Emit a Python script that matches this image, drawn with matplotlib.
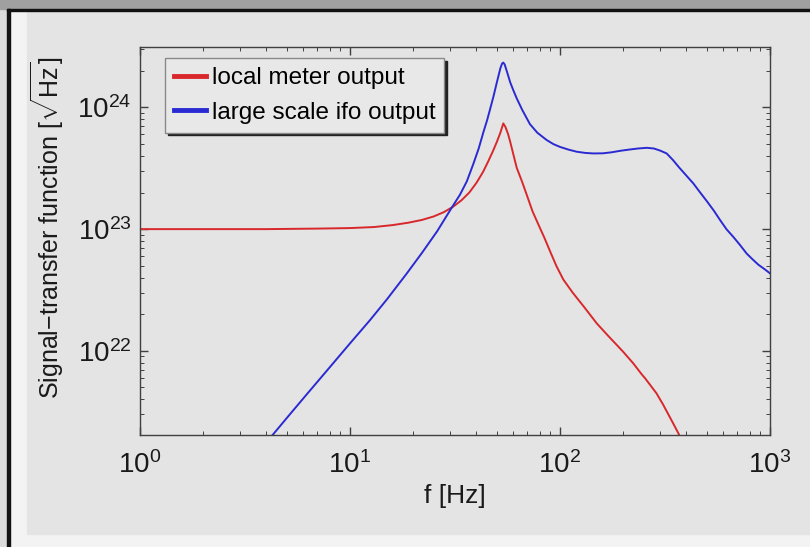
import matplotlib
matplotlib.use("Agg")
from matplotlib import pyplot as plt
from matplotlib.patches import Rectangle
from matplotlib.ticker import LogLocator

# values (f in Hz, transfer function in sqrt(Hz))
f_local = [1, 2, 4, 7, 10, 13, 16, 19, 22, 25, 28, 31, 34, 37, 40, 43, 45.5, 48, 50,
           52, 53.7, 55, 56.5, 57.8, 60, 62.2, 66, 69.4, 74, 80.3, 84, 89.6, 96, 103.7,
           115, 130, 149.6, 170, 200, 223, 245, 255, 288, 310, 345, 366, 400]
h_local = [1.0e23, 1.0e23, 1.0e23, 1.01e23, 1.02e23, 1.04e23, 1.08e23, 1.13e23, 1.19e23,
           1.27e23, 1.38e23, 1.53e23, 1.73e23, 2.0e23, 2.4e23, 2.95e23, 3.6e23, 4.4e23,
           5.2e23, 6.2e23, 7.4e23, 6.9e23, 6.1e23, 5.3e23, 4.1e23, 3.2e23, 2.45e23,
           1.92e23, 1.4e23, 1.02e23, 8.6e22, 6.6e22, 5.0e22, 3.85e22, 3.0e22, 2.3e22,
           1.68e22, 1.32e22, 9.8e21, 7.9e21, 6.4e21, 5.9e21, 4.47e21, 3.6e21, 2.55e21,
           2.1e21, 1.47e21]

f_ifo = [3.5, 4.28, 5, 6.2, 8, 10, 12.5, 15, 18.6, 22, 26, 30.5, 33.4, 36, 38.7, 41,
         43.1, 45, 46.4, 48.2, 50, 52, 53, 53.7, 54.5, 56, 58, 60, 62.2, 66, 71.9, 78,
         86.4, 93, 100, 110, 120, 132, 144, 160, 176, 193, 212, 235, 259, 280, 300, 322,
         345, 370, 400, 431, 465, 500, 540, 578, 620, 670, 720, 774, 830, 880, 940, 1000]
h_ifo = [1.35e21, 2.03e21, 2.8e21, 4.35e21, 7.3e21, 1.15e22, 1.8e22, 2.65e22, 4.3e22,
         6.37e22, 9.6e22, 1.5e23, 1.92e23, 2.47e23, 3.45e23, 4.6e23, 6.2e23, 7.9e23,
         9.6e23, 1.23e24, 1.6e24, 2.1e24, 2.3e24, 2.34e24, 2.26e24, 1.95e24, 1.6e24,
         1.38e24, 1.19e24, 9.6e23, 7.3e23, 6.2e23, 5.4e23, 5.0e23, 4.74e23, 4.5e23,
         4.33e23, 4.23e23, 4.19e23, 4.2e23, 4.28e23, 4.4e23, 4.5e23, 4.6e23, 4.66e23,
         4.6e23, 4.42e23, 4.19e23, 3.7e23, 3.2e23, 2.75e23, 2.38e23, 2.0e23, 1.7e23,
         1.42e23, 1.19e23, 1.0e23, 8.6e22, 7.4e22, 6.3e22, 5.6e22, 5.1e22, 4.7e22,
         4.33e22]

labels = ["local meter output", "large scale ifo output"]
colors = ["#d8282c", "#2a2ad2"]

plt.rcParams["font.family"] = ["Liberation Sans", "DejaVu Sans"]
plt.rcParams["mathtext.fontset"] = "custom"
plt.rcParams["mathtext.rm"] = "Liberation Sans"
plt.rcParams["mathtext.it"] = "Liberation Sans:italic"
plt.rcParams["mathtext.bf"] = "Liberation Sans:bold"

fig = plt.figure(figsize=(8.1, 5.47), dpi=100, facecolor="#f2f2f2")

# frame decorations around the panel
fig.patches.append(Rectangle((0, 0), 1, 1, transform=fig.transFigure,
                             color="#dadada", zorder=-10))
fig.patches.append(Rectangle((10 / 810, 0), 1, 1 - 11 / 547, transform=fig.transFigure,
                             color="#f3f3f3", zorder=-9))
fig.patches.append(Rectangle((27 / 810, 13 / 547), 1, 1 - 24 / 547,
                             transform=fig.transFigure, color="#e4e4e4", zorder=-8))
fig.patches.append(Rectangle((0, 1 - 9 / 547), 1, 9 / 547, transform=fig.transFigure,
                             color="#a0a0a0", zorder=-7))
fig.patches.append(Rectangle((7 / 810, 1 - 11 / 547), 1, 2.5 / 547,
                             transform=fig.transFigure, color="#111111", zorder=-6))
fig.patches.append(Rectangle((7 / 810, 0), 2.5 / 810, 1 - 9 / 547,
                             transform=fig.transFigure, color="#111111", zorder=-6))

ax = fig.add_axes([140 / 810, 1 - 435 / 547, 630 / 810, 388.3 / 547])
ax.set_facecolor("#e4e4e4")

ax.loglog(f_local, h_local, color=colors[0], linewidth=1.4, label=labels[0])
ax.loglog(f_ifo, h_ifo, color=colors[1], linewidth=1.4, label=labels[1])

ax.set_xlim(1, 1000)
ax.set_ylim(2.03e21, 3.16e24)

ax.xaxis.set_major_locator(LogLocator(base=10, numticks=10))
ax.yaxis.set_major_locator(LogLocator(base=10, numticks=10))
ax.tick_params(which="both", direction="in", top=True, right=True, colors="#404040",
               labelcolor="#1a1a1a", labelsize=20)
ax.tick_params(which="major", length=6, width=1)
ax.tick_params(which="minor", length=3, width=0.7)
ax.tick_params(axis="x", pad=12)
ax.tick_params(axis="y", pad=6)
for s in ax.spines.values():
    s.set_color("#404040")
    s.set_linewidth(1)

ax.set_xlabel("f [Hz]", fontsize=19, color="#1a1a1a", labelpad=3)
ax.set_ylabel(r"Signal$-$transfer function [$\sqrt{\mathrm{Hz}}$]", fontsize=18,
              color="#1a1a1a")
ax.yaxis.set_label_coords(-0.118, 0.535)

leg = ax.legend(loc="upper left", bbox_to_anchor=(0.04, 0.97), borderaxespad=0,
                fontsize=17.5, handlelength=1.3, handletextpad=0.25, labelspacing=0.5,
                fancybox=False, framealpha=1, facecolor="#e8e8e8", edgecolor="#8a8a8a",
                shadow={"color": "#222222", "alpha": 1}, borderpad=0.37)
for line in leg.get_lines():
    line.set_linewidth(3.5)

fig.savefig("out.png", dpi=100, facecolor=fig.get_facecolor())
